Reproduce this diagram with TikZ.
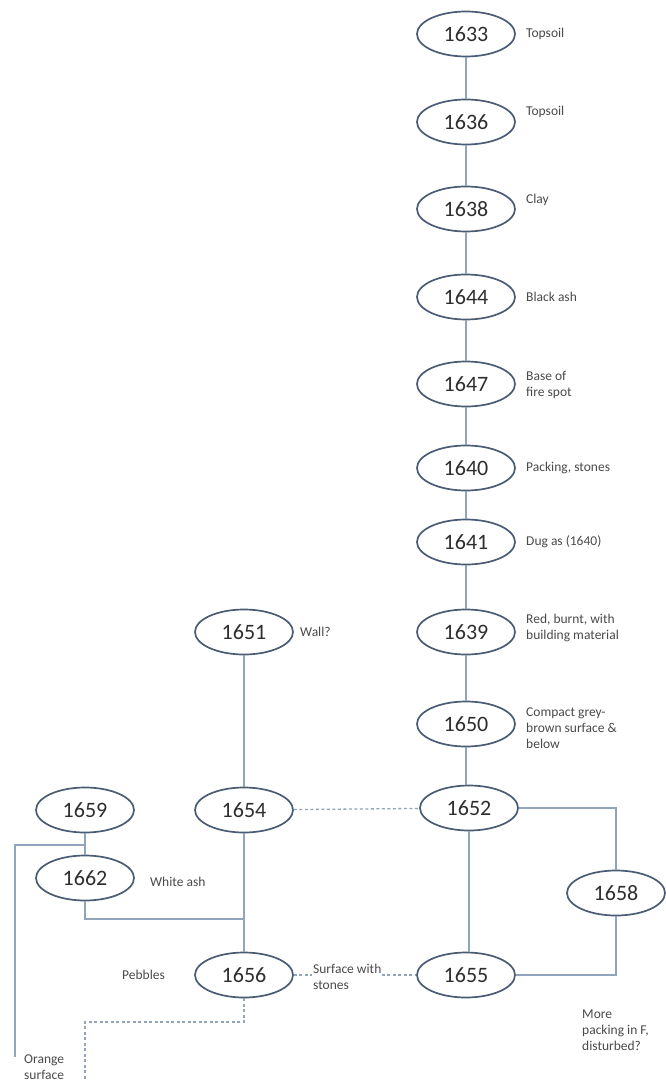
\documentclass[tikz,border=0pt]{standalone}
\usepackage{fontspec}
\setmainfont{Carlito}
\usetikzlibrary{shapes.geometric}
\definecolor{ringc}{HTML}{4A5C74}
\definecolor{linec}{HTML}{92A4BA}
\definecolor{txtc}{HTML}{2E2E2E}
\definecolor{labc}{HTML}{4A4A4A}
\tikzset{
  unit/.style={ellipse,draw=ringc,line width=1.7pt,minimum width=98pt,minimum height=45pt,inner sep=0pt,text=txtc,font=\fontsize{22}{24}\selectfont},
  lab/.style={anchor=west,text=labc,font=\fontsize{13.5}{16}\selectfont,align=left,inner sep=0pt},
  conn/.style={draw=linec,line width=1.3pt},
  dconn/.style={draw=linec,line width=1.3pt,dash pattern=on 3pt off 2.5pt}
}
\begin{document}
\begin{tikzpicture}[x=1pt,y=-1pt]
\useasboundingbox[fill=white] (0,0) rectangle (665,1086);
% main column
\node[unit] (n1633) at (466,34) {1633};
\node[unit] (n1636) at (466,122) {1636};
\node[unit] (n1638) at (466,209) {1638};
\node[unit] (n1644) at (466,297) {1644};
\node[unit] (n1647) at (466,384) {1647};
\node[unit] (n1640) at (466,468) {1640};
\node[unit] (n1641) at (466,542) {1641};
\node[unit] (n1639) at (466,632) {1639};
\node[unit] (n1650) at (466,724) {1650};
\node[unit] (n1652) at (469,808) {1652};
\node[unit] (n1655) at (466,975) {1655};
\node[unit] (n1658) at (616,893) {1658};
% left part
\node[unit] (n1651) at (244,632) {1651};
\node[unit] (n1654) at (244,810) {1654};
\node[unit] (n1656) at (244,975) {1656};
\node[unit] (n1659) at (85,810) {1659};
\node[unit] (n1662) at (85,878) {1662};
% labels
\node[lab] (l1633) at (526,34) {Topsoil};
\node[lab] (l1636) at (526,112) {Topsoil};
\node[lab] (l1638) at (526,200) {Clay};
\node[lab] (l1644) at (526,297) {Black ash};
\node[lab] (l1647) at (526,385) {Base of\\fire spot};
\node[lab] (l1640) at (526,468) {Packing, stones};
\node[lab] (l1641) at (526,542) {Dug as (1640)};
\node[lab] (l1639) at (526,628) {Red, burnt, with\\building material};
\node[lab] (l1650) at (526,728) {Compact grey-\\brown surface \&\\below};
\node[lab] (l1651) at (300,632) {Wall?};
\node[lab] (l1662) at (150,882) {White ash};
\node[lab] (l1656) at (122,975) {Pebbles};
\node[lab] (l1655) at (582,1030) {More\\packing in F,\\disturbed?};
\node[lab] (lorange) at (24,1067) {Orange\\surface};
% connectors main column
\draw[conn] (n1633) -- (n1636);
\draw[conn] (n1636) -- (n1638);
\draw[conn] (n1638) -- (n1644);
\draw[conn] (n1644) -- (n1647);
\draw[conn] (n1647) -- (n1640);
\draw[conn] (n1640) -- (n1641);
\draw[conn] (n1641) -- (n1639);
\draw[conn] (n1639) -- (n1650);
\draw[conn] (n1650.south) -- (n1650.south |- n1652.north);
\draw[conn] (n1652.south) -- (n1652.south |- n1655.north);
\draw[conn] (n1652.east) -| (n1658.north);
\draw[conn] (n1658.south) |- (n1655.east);
% left connectors
\draw[conn] (n1651) -- (n1654);
\draw[conn] (n1654) -- (n1656);
\coordinate (j1662) at (n1654 |- 0,919);
\draw[conn] (n1662.south) |- (j1662);
\draw[conn] (n1659) -- (n1662);
\coordinate (k1659) at (n1659 |- 0,845);
\coordinate (kdown) at (15,1057);
\draw[conn] (k1659) -| (kdown);
% dashed
\draw[dconn] (n1654) -- (n1652);
\draw[dconn] (n1656) -- (n1655);
\node[lab,fill=white,inner sep=1pt] (lsurf) at (312,977) {Surface with\\stones};
\coordinate (dturn) at (n1656 |- 0,1022);
\coordinate (dend) at (85,1080);
\draw[dconn] (n1656.south) -- (dturn) -| (dend);
\end{tikzpicture}
\end{document}
